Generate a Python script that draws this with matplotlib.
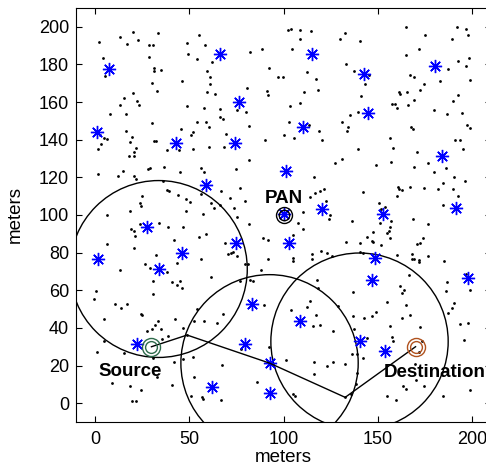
import numpy as np
import matplotlib
matplotlib.use('Agg')
import matplotlib.pyplot as plt
from matplotlib.patches import Circle

plt.rcParams['font.family'] = ['Liberation Sans', 'DejaVu Sans']

# ordinary nodes (black dots)
node_x = [2.0, 4.4, 5.5, 13.4, 17.1, 20.0, 23.0, 28.8, 30.7, 33.6, 28.8, 31.6, 31.3, 34.8, 30.2, 32.9,
          20.0, 15.4, 22.3, 23.5, 13.1, 7.8, 16.3, 30.4, 16.4, 19.8, 18.6, 3.4, 4.8, 6.2, 2.7, 31.4, 32.2,
          48.6, 49.5, 54.2, 55.3, 58.5, 62.2, 59.5, 61.3, 61.0, 46.1, 59.4, 63.8, 48.9, 57.9, 66.4, 66.3,
          67.7, 59.0, 60.4, 54.2, 45.8, 51.9, 50.7, 69.6, 82.3, 88.7, 92.2, 97.0, 80.9, 91.0, 91.9, 75.5,
          80.0, 81.8, 90.3,
          102.3, 103.9, 108.8, 109.0, 114.7, 104.6, 99.5, 112.6, 117.0, 118.2, 110.8, 108.5, 103.7, 102.8,
          113.4, 118.7, 100.4, 105.8, 120.2, 132.7, 130.1, 140.3, 133.1, 137.3, 143.1, 141.2, 145.2, 139.6,
          135.4, 131.1, 134.1, 133.9, 156.6, 165.0, 175.1, 171.6, 165.0, 167.2, 169.1, 174.6, 172.1, 161.0,
          161.5, 165.7, 169.1, 166.1, 157.3, 158.9, 160.3, 167.5, 168.8, 179.7, 186.6, 182.9, 187.1, 191.9,
          197.0, 197.9, 189.4, 192.3, 198.4, 196.8, 198.8, 192.6, 189.9, 194.5, 197.2, 199.0, 191.0, 193.7,
          1.6, 21.7, 20.9, 18.2, 20.5, 38.3, 44.7, 51.9, 60.6, 68.6, 81.5, 1.4, 12.2, 14.8, 20.7, 21.6, 28.3,
          29.2, 36.9, 45.2, 56.4, 57.9, 74.9, 36.0, 38.3, 39.4, 25.1, 24.0, 24.7, 44.3, 48.4, 50.2, 48.2,
          57.1, 56.4, 61.7, 62.9, 67.0, 71.6, 66.1, 73.7, 76.9, 79.5, 75.1, 81.5, 6.2, 18.6, 23.9, 18.9,
          21.0, 21.2, 33.9, 39.0, 46.8, 55.3, 59.0, 41.7, 6.2, 20.9, 32.2, 43.5, 26.5, 29.2, 38.2, 30.7,
          41.0, 45.1, 56.4, 61.5, 69.1, 70.7, 72.4, 73.3, 75.5, 79.5, 81.1, 89.1, 91.9, 91.9, 13.1, 77.0,
          82.2, 84.0, 88.0,
          139.6, 158.3, 170.9, 194.9, 127.2, 130.9, 149.0, 156.9, 169.3, 176.5, 179.7, 185.9, 116.3, 190.5,
          196.1, 184.3, 166.8, 160.6, 161.3, 162.9, 174.4, 182.0, 189.8, 192.3, 160.1, 142.1, 114.1, 116.6,
          119.1, 121.7, 122.5, 110.3, 124.9, 124.2, 107.8, 110.3, 105.0, 105.3, 105.3, 114.9, 115.0, 119.8,
          123.3, 125.6, 136.2, 150.7, 151.6, 153.6, 152.5, 151.1, 156.9, 156.6, 156.0, 154.8, 156.2, 147.7,
          144.4, 146.7, 147.4, 151.8, 140.8, 133.1, 140.3, 142.4, 160.1, 168.0, 168.0, 169.3, 171.6, 171.6,
          176.7, 184.5, 168.9, 176.5, 174.2, 172.1, 170.7, 185.0, 166.3, 117.7, 196.7, 186.8,
          0.4, -0.2, 10.8, 14.1, 16.8, 30.6, 43.6, 46.1, 4.8, 24.4, 25.1, 33.4, 32.0, 30.2, 27.4, 35.0, 42.4,
          46.8, 38.7, 35.7, 4.6, 0.9, 15.2, 30.6, 42.1, 46.8, 51.8, 52.7, 58.1, 54.2, 65.0, 68.0, 67.3, 77.6,
          86.2, 89.8, 92.1, 32.7, 9.2, 18.7, 24.6, 41.0, 19.6, 21.7, 51.1, 52.8, 56.7, 57.4, 67.0,
          118.2, 114.1, 112.7, 103.9, 117.3, 115.9, 119.5, 126.5, 129.0, 136.8, 137.1, 142.8, 146.7, 149.1,
          154.8, 161.9, 162.6, 163.8, 165.2, 167.2, 162.7, 156.6, 157.6, 158.0, 172.1, 144.2, 137.3, 136.4,
          138.9, 142.2, 101.3, 116.1, 126.5, 123.2, 132.7, 116.3, 139.1, 138.5, 104.8, 106.2, 135.7, 155.1,
          159.9, 163.4, 164.9, 174.6, 184.5, 170.0, 185.9, 199.0, 190.5, 189.4, 187.3, 193.5, 197.7, 195.8,
          198.8, 173.3, 171.6, 169.8, 48.9, 132.7]
node_y = [191.9, 183.2, 174.0, 194.4, 190.8, 197.4, 192.9, 190.6, 190.6, 196.7, 183.9, 178.3, 176.7, 176.9,
          170.1, 166.1, 165.0, 162.2, 160.8, 158.5, 158.5, 153.9, 153.5, 149.1, 144.9, 141.7, 138.9, 137.8,
          140.8, 140.4, 142.4, 139.4, 139.4, 191.5, 185.5, 182.9, 195.4, 190.3, 181.1, 176.7, 173.5, 169.6,
          171.4, 165.4, 164.3, 158.1, 157.1, 156.2, 152.3, 151.0, 149.5, 146.5, 149.5, 145.6, 144.0, 142.6,
          143.1, 186.8, 188.2, 177.9, 173.3, 167.3, 166.1, 163.8, 156.0, 154.8, 147.3, 139.9,
          198.1, 199.1, 198.1, 193.7, 197.9, 188.0, 173.3, 175.8, 172.3, 166.4, 165.4, 159.7, 158.1, 149.5,
          148.0, 144.5, 142.4, 140.8, 139.9, 196.5, 193.3, 192.6, 180.2, 176.7, 169.6, 163.2, 174.4, 154.6,
          153.0, 149.5, 146.6, 144.5, 141.1, 199.8, 195.6, 188.0, 184.8, 174.6, 173.5, 169.4, 166.4, 165.2,
          164.5, 165.2, 161.3, 158.5, 159.0, 159.2, 156.9, 146.8, 145.6, 156.0, 153.7, 171.4, 177.6, 199.8,
          199.0, 195.4, 193.7, 181.8, 183.2, 179.3, 171.7, 163.8, 160.8, 154.2, 147.7, 146.3, 139.9, 140.1,
          135.1, 135.5, 133.4, 131.1, 131.2, 134.6, 134.6, 135.0, 136.2, 136.0, 129.1, 121.9, 120.8, 123.3,
          120.6, 119.1, 124.2, 125.1, 125.4, 123.1, 125.2, 123.1, 124.5, 118.2, 113.4, 112.7, 109.9, 106.5,
          104.9, 110.4, 108.3, 106.8, 102.2, 100.3, 111.4, 106.5, 103.8, 112.7, 109.0, 105.1, 103.8, 114.4,
          107.2, 99.1, 95.0, 100.1, 101.9, 95.0, 92.3, 91.5, 88.8, 95.7, 93.4, 93.4, 88.1, 89.9, 86.9, 84.6,
          82.3, 78.6, 74.7, 74.0, 71.7, 69.5, 64.8, 64.4, 64.8, 76.8, 67.2, 85.1, 79.4, 79.8, 80.5, 78.2,
          74.1, 73.8, 87.6, 86.7, 76.6, 70.9, 64.8, 65.5, 64.8, 70.8,
          135.1, 135.8, 133.5, 135.0, 127.5, 129.5, 126.6, 128.4, 125.4, 127.7, 122.9, 124.9, 120.3, 120.3,
          118.3, 116.9, 115.0, 115.0, 113.9, 113.2, 114.1, 113.7, 113.6, 110.2, 110.0, 112.3, 109.5, 111.6,
          112.7, 113.7, 107.2, 101.7, 100.1, 97.8, 95.5, 92.3, 89.2, 77.1, 75.7, 79.1, 76.8, 80.7, 79.8,
          78.0, 97.0, 106.3, 103.3, 104.0, 100.0, 95.9, 96.6, 93.4, 91.6, 90.6, 87.6, 91.1, 88.1, 86.3,
          85.8, 83.9, 84.9, 85.4, 80.3, 80.0, 78.9, 79.1, 76.6, 76.4, 75.9, 75.0, 78.0, 105.1, 98.0, 95.2,
          87.9, 85.3, 84.4, 75.7, 68.0, 65.5, 68.8, 64.4,
          59.8, 55.4, 52.7, 50.6, 52.9, 58.0, 62.8, 61.4, 44.8, 47.3, 46.6, 43.5, 41.8, 39.3, 38.2, 39.5,
          44.8, 40.0, 35.9, 34.3, 33.1, 27.1, 26.7, 24.1, 21.8, 23.4, 24.4, 43.5, 43.5, 49.9, 42.5, 47.4,
          20.2, 28.7, 11.4, 52.2, 30.1, 13.7, 10.7, 9.1, 7.1, 9.9, 0.9, 1.3, 3.6, 13.7, 3.2, 2.4, 1.6,
          61.0, 54.3, 51.3, 49.6, 46.7, 41.1, 41.8, 38.6, 51.7, 58.9, 46.4, 45.5, 46.4, 48.5, 53.6, 62.1,
          58.4, 60.0, 52.2, 46.9, 45.0, 41.2, 35.4, 33.3, 40.7, 34.5, 39.3, 26.4, 25.9, 24.1, 22.7, 22.0,
          22.0, 19.5, 20.7, 15.4, 15.8, 10.0, 5.0, 3.6, 4.8, 3.9, 1.8, 9.2, 7.5, 9.2, 3.6, 12.3, 59.8, 60.3,
          53.4, 50.4, 47.8, 42.1, 42.8, 33.6, 7.1, 33.3, 27.3, 20.6, 36.2, 3.1]

# special nodes (blue asterisks)
star_x = [7.6, 66.6, 76.2, 1.2, 43.0, 74.4, 115.0, 142.8, 180.2, 144.7, 110.4, 59.0, 27.9, 46.3, 1.6,
          33.8, 74.6, 101.3, 120.5, 184.0, 191.5, 152.8, 100.0, 102.8, 148.6, 147.0, 197.9, 22.1, 83.4,
          79.5, 92.6, 62.2, 92.8, 108.7, 140.3, 153.7]
star_y = [177.4, 185.5, 160.2, 144.3, 138.5, 138.0, 185.5, 175.1, 179.2, 154.4, 146.8, 116.0, 93.8, 79.8,
          76.4, 71.3, 85.3, 123.5, 103.0, 131.6, 103.8, 100.5, 100.5, 85.3, 77.0, 65.5, 66.7, 31.7, 52.7,
          31.3, 21.3, 8.5, 5.2, 43.9, 32.8, 27.5]

# route from source to destination
route_x = [30, 48.9, 92.6, 132.7, 170]
route_y = [30, 36.2, 21.3, 3.1, 30]

# coverage circles
circ_x = [33.8, 92.6, 140.3]
circ_y = [71.3, 21.3, 32.8]
radius = 47

pan = (100, 100)
src = (30, 30)
dst = (170, 30)

fig = plt.figure(figsize=(4.86, 4.70), dpi=100)
ax = fig.add_axes([76/486, 1 - 422/470, 415/486, 414/470])

ax.plot(node_x, node_y, 'o', color='black', ms=2.0, mew=0)
ax.plot(star_x, star_y, linestyle='none', marker=(8, 2, 0), color='blue', ms=9.5, mew=1.0)

for cx, cy in zip(circ_x, circ_y):
    ax.add_patch(Circle((cx, cy), radius, fill=False, ec='black', lw=1.0, clip_on=True))

ax.plot(route_x, route_y, '-', color='black', lw=1.0)

# PAN marker
ax.plot(*pan, 'o', mfc='none', mec='black', ms=11.5, mew=1.0)
ax.plot(*pan, 'o', mfc='none', mec='black', ms=7.5, mew=1.0)
# source / destination markers
ax.plot(*src, 'o', mfc='none', mec='#2e6b4b', ms=13, mew=1.0)
ax.plot(*src, 'o', mfc='none', mec='#2e6b4b', ms=8.5, mew=1.0)
ax.plot(*dst, 'o', mfc='none', mec='#b0521e', ms=13, mew=1.0)
ax.plot(*dst, 'o', mfc='none', mec='#b0521e', ms=8.5, mew=1.0)

ax.text(100, 104.5, 'PAN', ha='center', va='bottom', fontsize=13.5, fontweight='bold')
ax.text(18.5, 14.5, 'Source', ha='center', va='baseline', fontsize=13.5, fontweight='bold')
ax.text(180, 14, 'Destination', ha='center', va='baseline', fontsize=13.5, fontweight='bold')

ax.set_xlim(-10, 210)
ax.set_ylim(-10, 210)
ax.set_xticks([0, 50, 100, 150, 200])
ax.set_yticks(np.arange(0, 201, 20))
ax.tick_params(direction='in', top=True, right=True, length=4, width=0.8, labelsize=13)
ax.tick_params(axis='x', pad=6.5)
ax.tick_params(axis='y', pad=5)
for s in ax.spines.values():
    s.set_linewidth(0.8)
ax.set_xlabel('meters', fontsize=13.5, labelpad=1)
ax.set_ylabel('meters', fontsize=13.5, labelpad=11)

fig.savefig('out.png', dpi=100)
